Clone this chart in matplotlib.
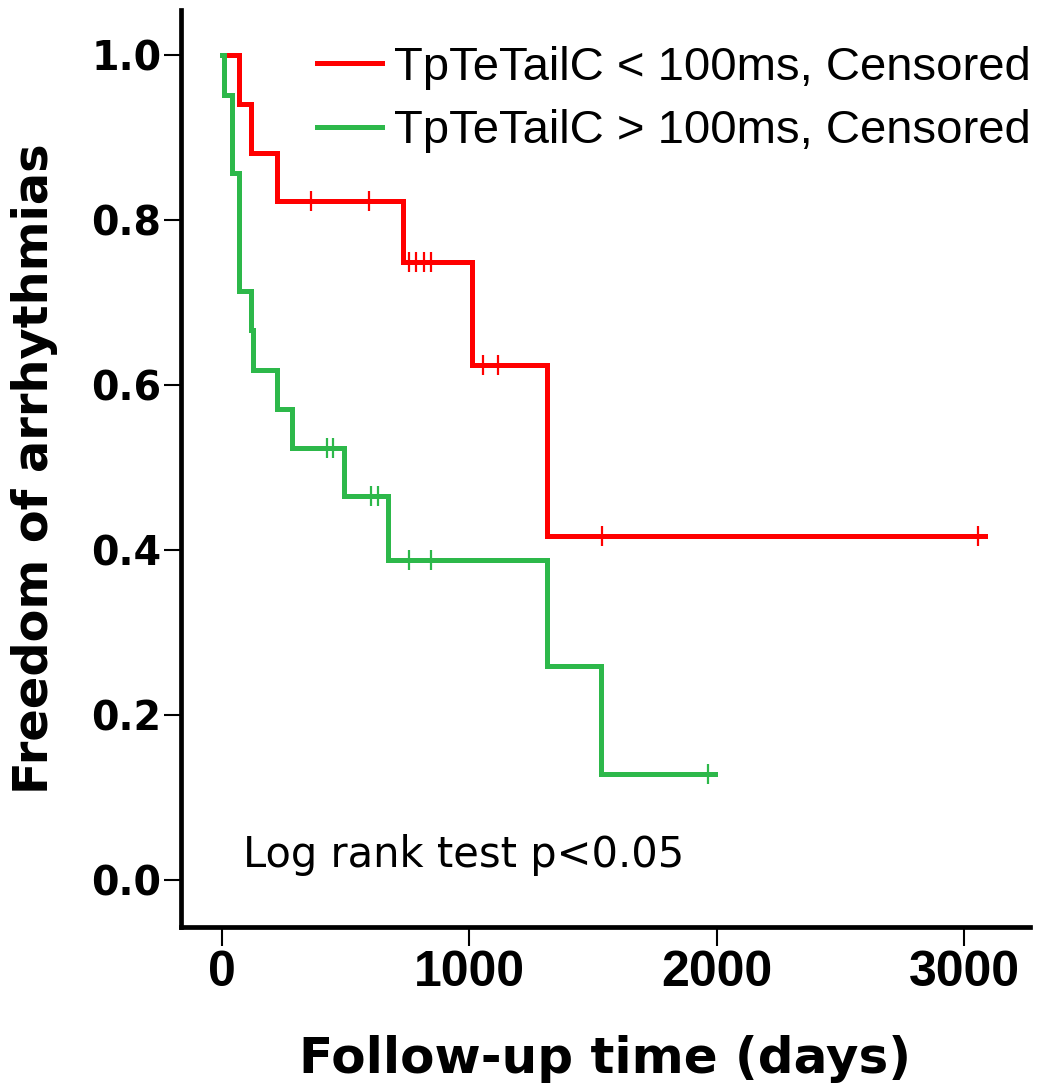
import numpy as np
import matplotlib
matplotlib.use("Agg")
import matplotlib.pyplot as plt

# Kaplan-Meier steps (time in days, survival)
red_t = [0, 70, 117, 221, 731, 1010, 1313, 3086]
red_s = [1.0, 0.941, 0.882, 0.824, 0.749, 0.624, 0.417, 0.417]
red_cens = [359, 596, 757, 785, 815, 845, 1057, 1117, 1535, 3058]

green_t = [0, 8, 39, 70, 116, 127, 221, 282, 495, 673, 1313, 1533, 1994]
green_s = [1.0, 0.952, 0.857, 0.714, 0.667, 0.619, 0.571, 0.524, 0.466, 0.388, 0.259, 0.129, 0.129]
green_cens = [423, 448, 601, 632, 757, 844, 1967]

labels = ["TpTeTailC < 100ms, Censored", "TpTeTailC > 100ms, Censored"]
xticks = [0, 1000, 2000, 3000]
yticks = [0.0, 0.2, 0.4, 0.6, 0.8, 1.0]

RED = "#ff0000"
GREEN = "#2db84a"


def surv_at(t, s, x):
    i = np.searchsorted(t, x, side="right") - 1
    return np.asarray(s)[i]


fig = plt.figure(figsize=(10.45, 10.91), dpi=100)
ax = fig.add_axes([0.1732, 0.1503, 0.8124, 0.8405])

for t, s, c, col, lab in [(red_t, red_s, red_cens, RED, labels[0]),
                          (green_t, green_s, green_cens, GREEN, labels[1])]:
    ax.step(t, s, where="post", color=col, lw=3.6, label=lab,
            solid_joinstyle="miter")
    ax.plot(c, surv_at(t, s, c), ls="none", marker="|", ms=14,
            mew=1.6, color=col)

ax.set_xlim(-166, 3267)
ax.set_ylim(-0.057, 1.055)
ax.set_xticks(xticks)
ax.set_yticks(yticks)
ax.set_yticklabels([f"{v:.1f}" for v in yticks])

for side in ["top", "right"]:
    ax.spines[side].set_visible(False)
ax.spines["left"].set_linewidth(3.4)
ax.spines["bottom"].set_linewidth(3.4)
ax.tick_params(axis="y", direction="out", length=12, width=1.5,
               labelsize=28.5, pad=2)
ax.tick_params(axis="x", direction="out", length=13.5, width=1.5,
               labelsize=36, pad=3)
for lbl in ax.get_yticklabels():
    lbl.set_fontweight("bold")
    lbl.set_family("DejaVu Sans")
for lbl in ax.get_xticklabels():
    lbl.set_fontweight("bold")
    lbl.set_family("Liberation Sans")

ax.set_ylabel("Freedom of arrhythmias", fontsize=34.5, fontweight="bold",
              family="DejaVu Sans")
ax.yaxis.set_label_coords(-0.145, 0.5)
ax.set_xlabel("Follow-up time (days)", fontsize=36, fontweight="bold",
              family="DejaVu Sans")
ax.xaxis.set_label_coords(0.5, -0.118)

ax.text(85, 0.0161, "Log rank test p<0.05", fontsize=30, va="baseline",
        ha="left", family="DejaVu Sans")

leg = ax.legend(loc="upper left", bbox_to_anchor=(0.3033, 0.958),
                bbox_transform=fig.transFigure,
                frameon=False, prop={"family": "Liberation Sans", "size": 34},
                handlelength=1.38, handletextpad=0.25, labelspacing=0.41,
                borderaxespad=0, borderpad=0)

fig.savefig("out.png", dpi=100)
